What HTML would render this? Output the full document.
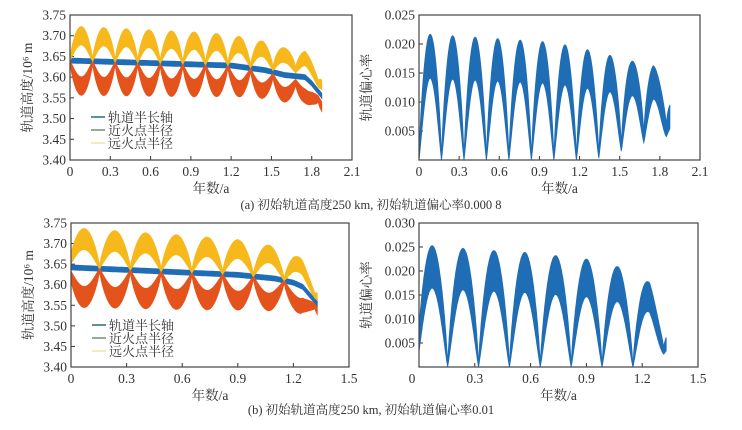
<!DOCTYPE html>
<html><head><meta charset="utf-8">
<style>
html,body{margin:0;padding:0;background:#fff;}
svg{display:block;}
text{font-family:"Liberation Serif","Noto Serif CJK SC",serif;fill:#333;}
</style></head>
<body>
<svg id="s" width="742" height="430" viewBox="0 0 742 430" xmlns="http://www.w3.org/2000/svg">
<g id="g"></g>
<text x="371" y="209" font-size="12.5" text-anchor="middle">(a) 初始轨道高度250 km, 初始轨道偏心率0.000 8</text>
<text x="371" y="414" font-size="12.5" text-anchor="middle">(b) 初始轨道高度250 km, 初始轨道偏心率0.01</text>
</svg>
<script>
var NS="http://www.w3.org/2000/svg",G=document.getElementById('g');
function el(n,a,t){var e=document.createElementNS(NS,n);for(var k in a)e.setAttribute(k,a[k]);if(t!==undefined)e.textContent=t;G.appendChild(e);return e;}
var BLUE="#1f6db5",ORG="#e5531c",YEL="#f6b81a";
function axes(L,R,T,B,xmax,xstep,ymin,ymax,ystep,ylab,xdec,ydec,yskip0,ylabx,x0off){
  var X=function(v){return L+(v/xmax)*(R-L)},Y=function(v){return B-(v-ymin)/(ymax-ymin)*(B-T)};
  for(var v=0;v<=xmax+1e-9;v+=xstep){var x=X(v);
    if(v>0&&v<xmax-1e-9){el('line',{x1:x,y1:B,x2:x,y2:B-4,stroke:'#333','stroke-width':1});}
    el('text',{x:v==0?x+(x0off||0):x,y:B+16,'font-size':13.5,'text-anchor':'middle'},v==0?'0':v.toFixed(xdec));}
  for(var v=ymin;v<=ymax+1e-9;v+=ystep){var y=Y(v);
    if(v>ymin+1e-9&&v<ymax-1e-9)el('line',{x1:L,y1:y,x2:L+4,y2:y,stroke:'#333','stroke-width':1});
    if(yskip0&&Math.abs(v)<1e-9)continue;
    el('text',{x:L-4,y:y+4.5,'font-size':13.5,'text-anchor':'end'},v.toFixed(ydec));}
  el('text',{x:(L+R)/2,y:B+33,'font-size':13.5,'text-anchor':'middle'},'年数/a');
  var cy=(T+B)/2;
  el('text',{x:ylabx,y:cy,'font-size':13.5,'text-anchor':'middle',transform:'rotate(-90 '+ylabx+' '+cy+')'},ylab);
  return {X:X,Y:Y};
}
function band(m,t0,t1,lo,hi,col){
  var up=[],dn=[];
  for(var t=t0;t<=t1+1e-9;t+=0.0015){up.push(m.X(t).toFixed(1)+','+m.Y(hi(t)).toFixed(1));dn.push(m.X(t).toFixed(1)+','+m.Y(lo(t)).toFixed(1));}
  el('polygon',{points:up.concat(dn.reverse()).join(' '),fill:col,stroke:col,'stroke-width':0.8});
}
function frame(L,R,T,B){el('rect',{x:L,y:T,width:R-L,height:B-T,fill:'none',stroke:'#444','stroke-width':1.2});}
function legend(x,y){
  var c=["#2a6b86","#7c8a6a","#efe3a8"],t=["轨道半长轴","近火点半径","远火点半径"];
  for(var i=0;i<3;i++){el('line',{x1:x,y1:y+i*13,x2:x+14,y2:y+i*13,stroke:c[i],'stroke-width':1.5});
    el('text',{x:x+17,y:y+i*13+5,'font-size':13},t[i]);}
}
function build(P){
  var m=axes(P.L,P.R,P.T,P.B,P.xmax,0.3,3.40,3.75,0.05,'轨道高度/10⁶ m',1,2,false,P.L-38,0);
  var e=axes(P.L2,P.R2,P.T,P.B,P.xmax,0.3,0,P.emax,0.005,'轨道偏心率',1,3,true,P.L2-48,P.x0off);
  var s=function(t){return Math.abs(Math.sin(Math.PI*(t+P.ph)/P.per));};
  var ehi=function(t){var a=P.A(t),f=P.fl(t),v=s(t);return a*Math.pow(v,0.75)+f*(1-v);};
  var elo=function(t){var a=P.A(t),f=P.fl(t),v=s(t);return 0.65*a*Math.pow(v,1.1)+0.7*f*(1-v);};
  var eloF=function(t){return Math.min(elo(t),ehi(t))};
  band(e,0,P.tend,eloF,ehi,BLUE);
  band(m,0,P.tend,function(t){return P.a(t)-0.006},function(t){return P.a(t)+0.006},BLUE);
  band(m,0,P.tend,function(t){return P.a(t)*(1-ehi(t))-0.004},function(t){return P.a(t)*(1-eloF(t)*0.75)},ORG);
  band(m,0,P.tend,function(t){return P.a(t)*(1+eloF(t)*0.75)},function(t){return P.a(t)*(1+ehi(t))+0.004},YEL);
  frame(P.L,P.R,P.T,P.B);frame(P.L2,P.R2,P.T,P.B);
  legend(P.L+21,P.T+102);
}
function pw(pts){return function(t){for(var i=0;i<pts.length-1;i++){if(t<=pts[i+1][0]){var r=(t-pts[i][0])/(pts[i+1][0]-pts[i][0]);return pts[i][1]+r*(pts[i+1][1]-pts[i][1]);}}return pts[pts.length-1][1];};}
build({L:70,R:352,L2:419,R2:700,T:15,B:160,xmax:2.1,emax:0.025,per:0.168,ph:0,tend:1.875,x0off:0,
  A:pw([[0,0.0218],[1.0,0.0203],[1.3,0.0188],[1.6,0.017],[1.75,0.0165],[1.875,0.011]]),
  fl:pw([[0,0],[1.3,0],[1.5,0.002],[1.65,0.004],[1.875,0.006]]),
  a:pw([[0,3.64],[1.2,3.628],[1.45,3.617],[1.6,3.605],[1.75,3.60],[1.8,3.585],[1.875,3.555]])});
build({L:71,R:349,L2:419,R2:698,T:223,B:367,xmax:1.5,emax:0.030,per:0.166,ph:0.012,tend:1.33,x0off:-7,
  A:pw([[0,0.0255],[0.3,0.0245],[0.6,0.0238],[0.9,0.0225],[1.08,0.0208],[1.24,0.0176],[1.33,0.009]]),
  fl:pw([[0,0],[1.18,0],[1.25,0.003],[1.33,0.004]]),
  a:pw([[0,3.642],[0.9,3.624],[1.1,3.615],[1.2,3.605],[1.25,3.595],[1.33,3.553]])});
</script>
</body></html>
